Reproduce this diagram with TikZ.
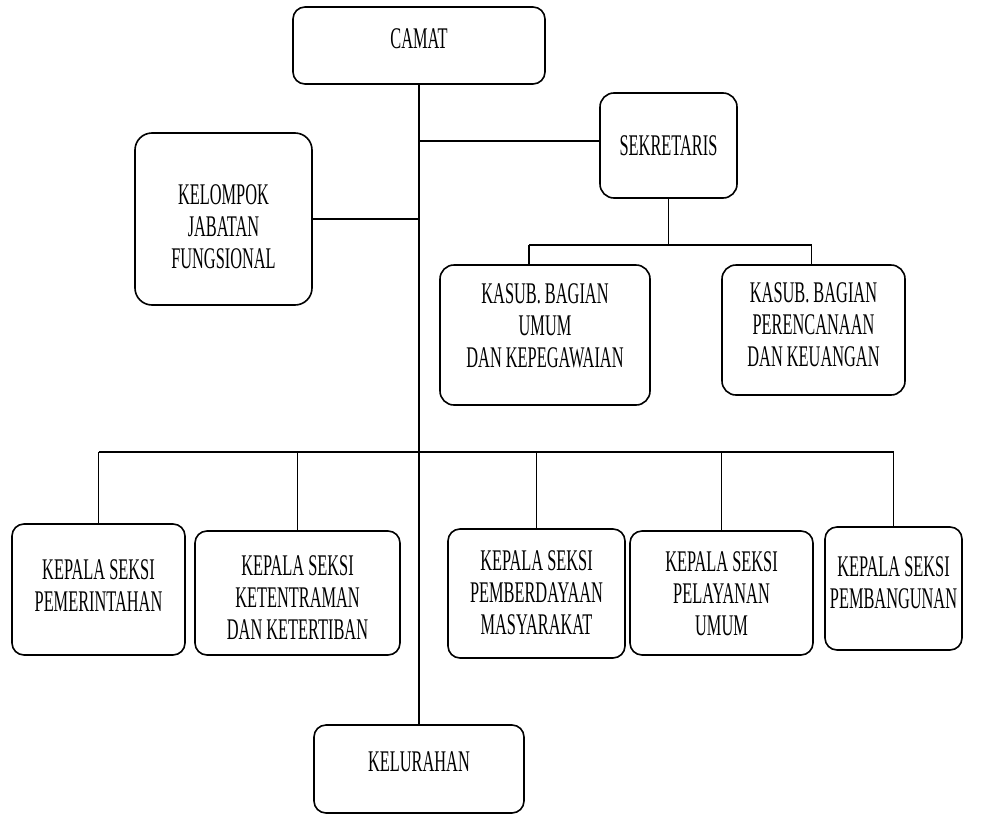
\documentclass[tikz,border=0pt]{standalone}
\usepackage{graphicx}
\usepackage{fontspec}
\setmainfont{Liberation Serif}
% #1: vertical shift of the text inside its box, #2: the lines
\newcommand{\orglbl}[2]{\raisebox{#1}[\height][\depth]{\scalebox{0.545}[1]{\begin{tabular}{@{}c@{}}#2\end{tabular}}}}
\begin{document}
\begin{tikzpicture}[x=1pt,y=-1pt,
  box/.style={draw=black, line width=1.6pt, rounded corners=12pt, align=center,
    inner sep=0pt, font=\fontsize{30}{32}\selectfont},
  conn/.style={draw=black, line width=1.4pt}]
\useasboundingbox (0,0) rectangle (995,814);
% boxes
\node[box, minimum width=252pt, minimum height=77pt] (camat) at (419,45.5) {\orglbl{3pt}{CAMAT}};
\node[box, minimum width=137pt, minimum height=105pt, rounded corners=14pt] (sek) at (668.5,145.5) {\orglbl{-4pt}{SEKRETARIS}};
\node[box, minimum width=177pt, minimum height=172pt, rounded corners=17pt] (kjf) at (223.5,219) {\orglbl{-11pt}{KELOMPOK\\JABATAN\\FUNGSIONAL}};
\node[box, minimum width=210pt, minimum height=140pt, rounded corners=14pt] (umum) at (545,335) {\orglbl{6pt}{KASUB. BAGIAN\\UMUM\\DAN KEPEGAWAIAN}};
\node[box, minimum width=183pt, minimum height=130pt, rounded corners=14pt] (peren) at (813.5,330) {\orglbl{2pt}{KASUB. BAGIAN\\PERENCANAAN\\DAN KEUANGAN}};
\node[box, minimum width=173pt, minimum height=131pt] (pem) at (98.5,589.5) {\orglbl{0pt}{KEPALA SEKSI\\PEMERINTAHAN}};
\node[box, minimum width=205pt, minimum height=124pt] (ket) at (297.5,593) {\orglbl{-8pt}{KEPALA SEKSI\\KETENTRAMAN\\DAN KETERTIBAN}};
\node[box, minimum width=177pt, minimum height=129pt] (pmb) at (536.5,593.5) {\orglbl{-3pt}{KEPALA SEKSI\\PEMBERDAYAAN\\MASYARAKAT}};
\node[box, minimum width=183pt, minimum height=124pt] (pel) at (721.5,593) {\orglbl{-4pt}{KEPALA SEKSI\\PELAYANAN\\UMUM}};
\node[box, minimum width=137pt, minimum height=123pt] (pbg) at (893.5,588.5) {\orglbl{2pt}{KEPALA SEKSI\\PEMBANGUNAN}};
\node[box, minimum width=210pt, minimum height=88pt] (kel) at (419,769) {\orglbl{4pt}{KELURAHAN}};
% helper coordinates
\coordinate (sj) at ([yshift=4.5pt]sek.west);
\coordinate (sbus) at (0,245);
\coordinate (bbus) at (0,452);
\coordinate (ud) at ([xshift=-16pt]umum.north);
\coordinate (pd) at ([xshift=-2pt]peren.north);
% connectors
\draw[conn] (camat.south) -- (kel.north);
\draw[conn] (sj) -- (sj -| camat.south);
\draw[conn] (kjf.east) -- (kjf.east -| camat.south);
\draw[conn] (sek.south) -- (sek.south |- sbus);
\draw[conn] (ud |- sbus) -- (pd |- sbus);
\draw[conn] (ud |- sbus) -- (ud);
\draw[conn] (pd |- sbus) -- (pd);
\draw[conn] (pem.north |- bbus) -- (pbg.north |- bbus);
\draw[conn] (pem.north |- bbus) -- (pem.north);
\draw[conn] (ket.north |- bbus) -- (ket.north);
\draw[conn] (pmb.north |- bbus) -- (pmb.north);
\draw[conn] (pel.north |- bbus) -- (pel.north);
\draw[conn] (pbg.north |- bbus) -- (pbg.north);
\end{tikzpicture}
\end{document}
